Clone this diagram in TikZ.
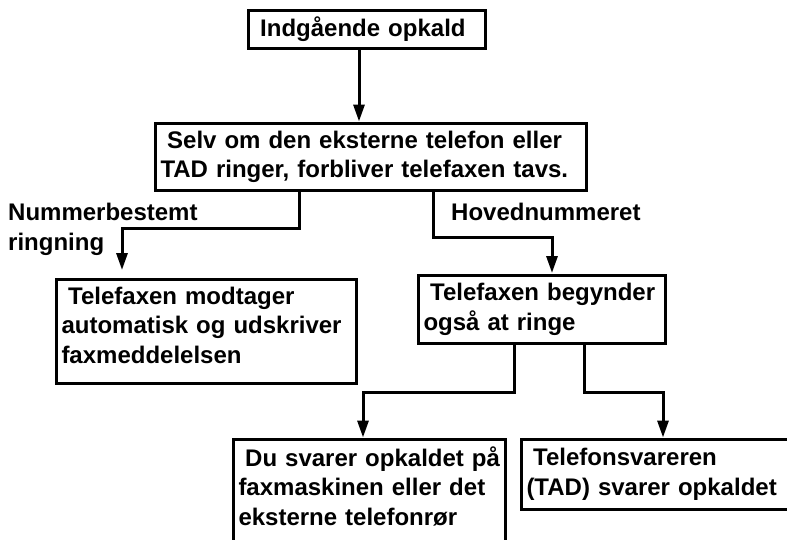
\documentclass[tikz,border=0pt]{standalone}
\usepackage{fontspec}
\setmainfont{Liberation Sans}
\usepackage{tikz}
\usetikzlibrary{arrows.meta}

\begin{document}
\begin{tikzpicture}[
  x=1pt, y=-1pt,
  box/.style={
    draw, line width=3pt, align=left, inner xsep=5pt, inner ysep=0pt,
    font=\bfseries\fontsize{24}{29.5}\selectfont
  },
  lbl/.style={
    anchor=north west, align=left, inner sep=0pt,
    font=\bfseries\fontsize{24}{30}\selectfont
  },
  arr/.style={-{Triangle[length=17pt, width=11pt]}, line width=3pt},
]
\useasboundingbox (0,0) rectangle (787,539);
\clip (0,0) rectangle (787,539);

%% ---- Boxes ----
\node[box, text width=227pt, minimum height=38pt] (start) at (367, 29)
  {\hspace*{.28em}Indgående opkald};
\node[box, text width=421pt, minimum height=67pt] (selv) at (371, 157)
  {\hspace*{.28em}Selv om den eksterne telefon eller\\TAD ringer, forbliver telefaxen tavs.};
\node[box, text width=290pt, minimum height=104pt, text depth=71.5pt] (fax) at (206.5, 331.5)
  {\hspace*{.28em}Telefaxen modtager\\automatisk og udskriver\\faxmeddelelsen};
\node[box, text width=237pt, minimum height=68pt, text depth=34.5pt] (ring) at (542, 309.5)
  {\hspace*{.28em}Telefaxen begynder\\også at ringe};
\node[box, text width=261.5pt, minimum height=130pt, text depth=96.5pt] (du) at (369.25, 504.5)
  {\hspace*{.28em}Du svarer opkaldet på\\faxmaskinen eller det\\eksterne telefonrør};
\node[box, text width=368.5pt, minimum height=70pt] (tad) at (710.75, 474.5)
  {\hspace*{.28em}Telefonsvareren\\(TAD) svarer opkaldet};

%% ---- Branch labels ----
\node[lbl] (nummer) at (8, 203) {Nummerbestemt\\ringning};
\node[lbl] (hoved) at (451, 203) {Hovednummeret};

%% ---- Bends and arrow ends ----
\coordinate (t0) at (359, 121.5);
\coordinate (lsplit) at (299, 228);
\coordinate (lend) at (122, 270);
\coordinate (rsplit) at (433, 237);
\coordinate (rend) at (552, 273);
\coordinate (bl) at (514, 392);
\coordinate (blend) at (363, 437.5);
\coordinate (br) at (584, 392);
\coordinate (brend) at (663, 437.5);

%% ---- Connectors ----
\draw[arr] (start.south -| t0) -- (t0);
\draw[arr] (selv.south -| lsplit) -- (lsplit) -| (lend);
\draw[arr] (selv.south -| rsplit) -- (rsplit) -| (rend);
\draw[arr] (ring.south -| bl) -- (bl) -| (blend);
\draw[arr] (ring.south -| br) -- (br) -| (brend);

\end{tikzpicture}
\end{document}
